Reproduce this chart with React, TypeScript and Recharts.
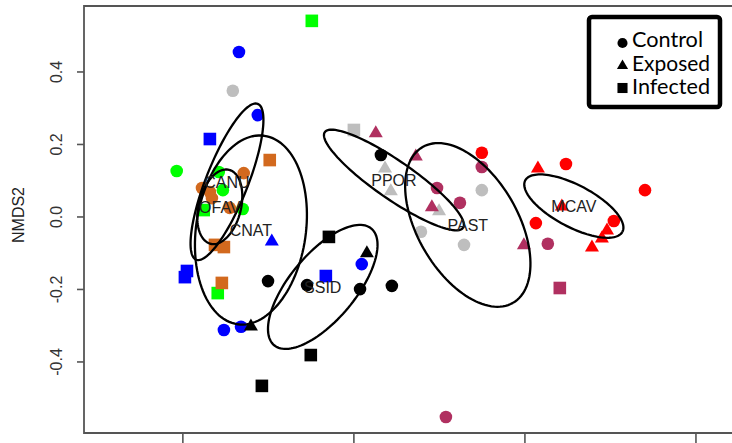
import { ScatterChart, Scatter, XAxis, YAxis, ReferenceArea, Label } from 'recharts';

// NMDS ordination: [NMDS1, NMDS2, treatment] — C = control, E = exposed, I = infected
type Pt = [number, number, 'C' | 'E' | 'I'];

const CNAT: Pt[] = [
  [-0.336, 0.455, 'C'], [-0.281, 0.281, 'C'], [-0.421, 0.215, 'I'], [-0.240, -0.066, 'E'],
  [-0.488, -0.149, 'I'], [-0.494, -0.166, 'I'], [-0.380, -0.312, 'C'], [-0.330, -0.303, 'C'],
  [-0.082, -0.163, 'I'], [0.023, -0.130, 'C'],
];
const CANU: Pt[] = [
  [-0.123, 0.541, 'I'], [-0.518, 0.127, 'C'], [-0.395, 0.124, 'C'], [-0.383, 0.074, 'C'],
  [-0.439, 0.019, 'I'], [-0.325, 0.022, 'C'], [-0.398, -0.210, 'I'],
];
const OFAV: Pt[] = [
  [-0.246, 0.157, 'I'], [-0.322, 0.121, 'C'], [-0.444, 0.080, 'C'], [-0.421, 0.069, 'C'],
  [-0.415, 0.052, 'C'], [-0.363, 0.025, 'C'], [-0.406, -0.077, 'I'], [-0.380, -0.083, 'I'],
  [-0.386, -0.182, 'I'],
];
const PPOR: Pt[] = [
  [-0.354, 0.348, 'C'], [0.000, 0.240, 'I'], [0.091, 0.135, 'E'], [0.108, 0.072, 'E'],
  [0.249, 0.017, 'E'], [0.196, -0.041, 'C'], [0.374, 0.074, 'C'], [0.322, -0.077, 'C'],
];
const SSID: Pt[] = [
  [0.079, 0.171, 'C'], [-0.073, -0.055, 'I'], [0.038, -0.099, 'E'], [-0.251, -0.177, 'C'],
  [-0.137, -0.188, 'C'], [0.018, -0.199, 'C'], [0.111, -0.190, 'C'], [-0.301, -0.301, 'E'],
  [-0.126, -0.381, 'I'], [-0.269, -0.466, 'I'],
];
const PAST: Pt[] = [
  [0.064, 0.232, 'E'], [0.181, 0.168, 'E'], [0.243, 0.080, 'C'], [0.228, 0.028, 'E'],
  [0.310, 0.039, 'C'], [0.374, 0.138, 'C'], [0.497, -0.077, 'E'], [0.567, -0.074, 'C'],
  [0.602, -0.196, 'I'], [0.269, -0.552, 'C'],
];
const MCAV: Pt[] = [
  [0.374, 0.177, 'C'], [0.538, 0.135, 'E'], [0.620, 0.146, 'C'], [0.851, 0.074, 'C'],
  [0.608, 0.030, 'E'], [0.532, -0.017, 'C'], [0.760, -0.011, 'C'], [0.740, -0.036, 'E'],
  [0.725, -0.058, 'E'], [0.696, -0.083, 'E'],
];

const SPECIES = [
  { name: 'CNAT', color: '#0000ff', points: CNAT },
  { name: 'CANU', color: '#00ff00', points: CANU },
  { name: 'OFAV', color: '#d2691e', points: OFAV },
  { name: 'PPOR', color: '#bebebe', points: PPOR },
  { name: 'SSID', color: '#000000', points: SSID },
  { name: 'PAST', color: '#b03060', points: PAST },
  { name: 'MCAV', color: '#ff0000', points: MCAV },
];

// ordiellipse: centre, semi-axis vector u, conjugate semi-axis vector v
const ELLIPSES = [
  { name: 'CANU', cx: -0.371, cy: 0.097, ux: 0.090, uy: 0.215, vx: 0.057, vy: -0.021 },
  { name: 'OFAV', cx: -0.392, cy: 0.028, ux: 0.027, uy: 0.102, vx: 0.060, vy: -0.014 },
  { name: 'CNAT', cx: -0.301, cy: -0.036, ux: 0.039, uy: 0.260, vx: 0.159, vy: -0.021 },
  { name: 'SSID', cx: -0.091, cy: -0.193, ux: 0.142, uy: 0.161, vx: 0.074, vy: -0.058 },
  { name: 'PPOR', cx: 0.117, cy: 0.102, ux: 0.202, uy: -0.132, vx: -0.032, vy: -0.043 },
  { name: 'PAST', cx: 0.333, cy: -0.022, ux: 0.132, uy: -0.215, vx: 0.127, vy: 0.069 },
  { name: 'MCAV', cx: 0.643, cy: 0.030, ux: 0.142, uy: -0.071, vx: -0.029, vy: -0.051 },
];

const LEGEND = [
  { label: 'Control', t: 'C' },
  { label: 'Exposed', t: 'E' },
  { label: 'Infected', t: 'I' },
];

const X_DOMAIN = [-0.789, 1.158];
const Y_DOMAIN = [-0.596, 0.582];
const X_TICKS = [-0.5, 0, 0.5, 1.0];
const Y_TICKS = [-0.4, -0.2, 0, 0.2, 0.4];

const FONT = '"Liberation Sans", Arial, sans-serif';

const ellipsePath = (e: typeof ELLIPSES[number]) => {
  const pts = [];
  for (let i = 0; i <= 120; i++) {
    const a = (i / 120) * Math.PI * 2;
    pts.push({ x: e.cx + e.ux * Math.cos(a) + e.vx * Math.sin(a), y: e.cy + e.uy * Math.cos(a) + e.vy * Math.sin(a) });
  }
  return pts;
};

const marker = (t: string, cx: number, cy: number, fill: string, s = 1) => {
  if (t === 'C') return <circle cx={cx} cy={cy} r={6.3 * s} fill={fill} />;
  if (t === 'I') return <rect x={cx - 6.3 * s} y={cy - 6.3 * s} width={12.6 * s} height={12.6 * s} fill={fill} />;
  return <polygon points={`${cx},${cy - 7.5 * s} ${cx - 7 * s},${cy + 4.5 * s} ${cx + 7 * s},${cy + 4.5 * s}`} fill={fill} />;
};

const YTick = ({ x, y, payload }: any) => {
  const tx = x - 13;
  return (
    <text x={tx} y={y} transform={`rotate(-90 ${tx} ${y})`} textAnchor="middle" fontSize={16} fontFamily={FONT} fill="#333">
      {Number(payload.value).toFixed(1)}
    </text>
  );
};

// x tick labels sit below the cropped edge of the figure; only the tick marks show
const XTick = () => <g />;

export default function App() {
  return (
    <div style={{ position: 'absolute', left: 0, top: 0, width: 732, height: 443, overflow: 'hidden', background: '#fff' }}>
      <ScatterChart width={790} height={470} margin={{ top: 6, right: 40, bottom: 7, left: 0 }}>
        <XAxis type="number" dataKey="x" domain={X_DOMAIN} ticks={X_TICKS} allowDataOverflow axisLine={false}
          tickSize={12} tickLine={{ stroke: '#555', strokeWidth: 1.6 }} height={30} interval={0} tick={<XTick />} />
        <YAxis type="number" dataKey="y" domain={Y_DOMAIN} ticks={Y_TICKS} allowDataOverflow axisLine={false}
          width={84} tickSize={7} tickLine={{ stroke: '#555', strokeWidth: 1.6 }} interval={0} tick={<YTick />}>
          <Label content={() => (
            <text x={24} y={215} transform="rotate(-90 24 215)" textAnchor="middle" fontSize={16} fontFamily={FONT} fill="#222">NMDS2</text>
          )} />
        </YAxis>
        <ReferenceArea x1={X_DOMAIN[0]} x2={X_DOMAIN[1]} y1={Y_DOMAIN[0]} y2={Y_DOMAIN[1]} fill="none" fillOpacity={0}
          stroke="#555" strokeWidth={1.8} ifOverflow="visible" />
        {SPECIES.map(s => (
          <Scatter key={s.name} name={s.name} data={s.points.map(([x, y, t]) => ({ x, y, t }))} fill={s.color}
            isAnimationActive={false} shape={(p: any) => marker(p.payload.t, p.cx, p.cy, s.color)} />
        ))}
        {ELLIPSES.map(e => (
          <Scatter key={e.name} data={ellipsePath(e)} line={{ stroke: '#000', strokeWidth: 2.3 }} lineType="joint"
            shape={() => <g />} isAnimationActive={false} />
        ))}
        <Scatter data={ELLIPSES.map(e => ({ x: e.cx, y: e.cy, name: e.name }))} isAnimationActive={false}
          shape={(p: any) => (
            <text x={p.cx} y={p.cy + 6} textAnchor="middle" fontSize={16} fontFamily={FONT} fill="#222">{p.payload.name}</text>
          )} />
      </ScatterChart>
      <svg width={140} height={100} style={{ position: 'absolute', left: 585, top: 13 }}>
        <rect x={4} y={4} width={131} height={90} rx={3} fill="#fff" stroke="#000" strokeWidth={4.5} />
        {LEGEND.map((l, i) => (
          <g key={l.label}>
            {marker(l.t, 37.5, 30 + i * 22.5, '#000', 0.8)}
            <text x={47} y={34 + i * 23.5} fontSize={21} fontFamily="Lato, sans-serif" fill="#000"
              textLength={l.label === 'Control' ? 71 : 78} lengthAdjust="spacingAndGlyphs">{l.label}</text>
          </g>
        ))}
      </svg>
    </div>
  );
}
